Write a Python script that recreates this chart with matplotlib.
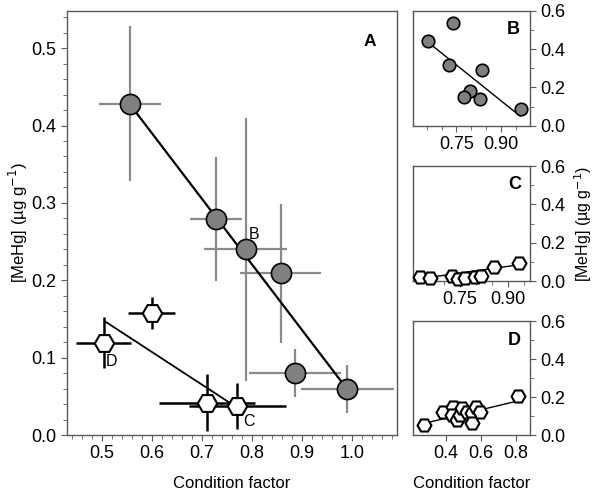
import matplotlib
matplotlib.use("Agg")
import matplotlib.pyplot as plt
from matplotlib.ticker import MultipleLocator, FixedLocator, FormatStrFormatter

plt.rcParams['font.family'] = ['Liberation Sans', 'DejaVu Sans']

# ---- Panel A data ----
a_gray_x = [0.555, 0.727, 0.787, 0.857, 0.885, 0.990]
a_gray_y = [0.428, 0.279, 0.240, 0.209, 0.080, 0.060]
a_gray_xerr = [0.062, 0.052, 0.083, 0.081, 0.092, 0.093]
a_gray_yerr = [0.100, 0.080, 0.170, 0.090, 0.031, 0.031]
a_gray_fit_x = [0.555, 0.987]
a_gray_fit_y = [0.428, 0.062]

a_white_x = [0.503, 0.599, 0.710, 0.770]
a_white_y = [0.119, 0.158, 0.042, 0.0375]
a_white_xerr = [0.055, 0.047, 0.096, 0.097]
a_white_yerr = [0.033, 0.021, 0.037, 0.030]
a_white_fit_x = [0.508, 0.757]
a_white_fit_y = [0.146, 0.041]

a_labels = ["B", "C", "D"]
a_label_x = [0.805, 0.793, 0.519]
a_label_y = [0.259, 0.017, 0.095]

# ---- Panel B data ----
b_x = [0.655, 0.738, 0.726, 0.837, 0.797, 0.776, 0.829, 0.968]
b_y = [0.443, 0.539, 0.316, 0.290, 0.180, 0.150, 0.141, 0.087]
b_fit_x = [0.660, 0.965]
b_fit_y = [0.430, 0.050]

# ---- Panel C data ----
c_x = [0.625, 0.656, 0.727, 0.745, 0.766, 0.797, 0.818, 0.857, 0.937]
c_y = [0.019, 0.016, 0.026, 0.009, 0.014, 0.022, 0.026, 0.074, 0.095]
c_fit_x = [0.625, 0.937]
c_fit_y = [0.012, 0.085]

# ---- Panel D data ----
d_x = [0.278, 0.386, 0.440, 0.434, 0.463, 0.482, 0.491, 0.520, 0.549, 0.549, 0.573, 0.596, 0.811]
d_y = [0.053, 0.120, 0.146, 0.105, 0.079, 0.107, 0.140, 0.123, 0.114, 0.064, 0.150, 0.120, 0.206]
d_fit_x = [0.290, 0.811]
d_fit_y = [0.064, 0.179]

ylabel = "[MeHg] (µg g$^{-1}$)"
spine_col = "#5a5a5a"
gray_fill = "#808080"
err_gray = "#8a8a8a"

fig = plt.figure(figsize=(6.01, 4.95), dpi=100)

def style(ax):
    for s in ax.spines.values():
        s.set_color(spine_col)
        s.set_linewidth(1.0)
    ax.tick_params(which='both', direction='out', color=spine_col, labelsize=13)
    ax.tick_params(which='major', length=4)
    ax.tick_params(which='minor', length=3)

# Panel A
axA = fig.add_axes([0.1115, 0.1212, 0.6606 - 0.1115, 0.9778 - 0.1212])
style(axA)
axA.errorbar(a_gray_x, a_gray_y, xerr=a_gray_xerr, yerr=a_gray_yerr, fmt='none',
             ecolor=err_gray, elinewidth=1.6, capsize=0, zorder=1)
axA.plot(a_gray_fit_x, a_gray_fit_y, color='black', lw=1.6, zorder=2)
axA.plot(a_gray_x, a_gray_y, 'o', ms=14.5, mfc=gray_fill, mec='black', mew=1.2, zorder=3)
axA.errorbar(a_white_x, a_white_y, xerr=a_white_xerr, yerr=a_white_yerr, fmt='none',
             ecolor='black', elinewidth=1.8, capsize=0, zorder=1)
axA.plot(a_white_fit_x, a_white_fit_y, color='black', lw=1.3, zorder=2)
axA.plot(a_white_x, a_white_y, 'H', ms=14, mfc='white', mec='black', mew=1.5, zorder=3)
for t, x, y in zip(a_labels, a_label_x, a_label_y):
    axA.text(x, y, t, ha='center', va='center', fontsize=11.5)
axA.text(1.035, 0.509, "A", ha='center', va='center', fontsize=12.5, fontweight='bold')
axA.set_xlim(0.43, 1.09)
axA.set_ylim(0, 0.548)
axA.xaxis.set_major_locator(FixedLocator([0.5, 0.6, 0.7, 0.8, 0.9, 1.0]))
axA.xaxis.set_minor_locator(MultipleLocator(0.02))
axA.yaxis.set_major_locator(MultipleLocator(0.1))
axA.yaxis.set_minor_locator(MultipleLocator(0.02))
axA.xaxis.set_major_formatter(FormatStrFormatter('%.1f'))
axA.yaxis.set_major_formatter(FormatStrFormatter('%.1f'))
axA.set_xlabel("Condition factor", fontsize=12, labelpad=10)
axA.set_ylabel(ylabel, fontsize=12)
axA.yaxis.set_label_coords(-0.112, 0.5)

def small(ax):
    style(ax)
    ax.yaxis.tick_right()
    ax.yaxis.set_label_position('right')
    ax.set_ylim(0, 0.6)
    ax.yaxis.set_major_locator(MultipleLocator(0.2))
    ax.yaxis.set_minor_locator(MultipleLocator(0.1))
    ax.yaxis.set_major_formatter(FormatStrFormatter('%.1f'))
    ax.tick_params(axis='y', which='both', left=False, right=True)

# Panel B
axB = fig.add_axes([0.6877, 0.746, 0.8819 - 0.6877, 0.9778 - 0.746])
small(axB)
axB.plot(b_fit_x, b_fit_y, color='black', lw=1.0, zorder=2)
axB.plot(b_x, b_y, 'o', ms=9, mfc=gray_fill, mec='black', mew=1.2, zorder=3)
axB.set_xlim(0.605, 0.998)
axB.xaxis.set_major_locator(FixedLocator([0.75, 0.90]))
axB.xaxis.set_minor_locator(FixedLocator([0.65, 0.70, 0.80, 0.85, 0.95]))
axB.xaxis.set_major_formatter(FormatStrFormatter('%.2f'))
axB.text(0.857, 0.843, "B", transform=axB.transAxes, ha='center', va='center',
         fontsize=13, fontweight='bold')

# Panel C
axC = fig.add_axes([0.6877, 0.4323, 0.8819 - 0.6877, 0.6646 - 0.4323])
small(axC)
axC.plot(c_fit_x, c_fit_y, color='black', lw=1.0, zorder=2)
axC.plot(c_x, c_y, 'H', ms=10, mfc='white', mec='black', mew=1.5, zorder=3, clip_on=False)
axC.set_xlim(0.605, 0.97)
axC.xaxis.set_major_locator(FixedLocator([0.75, 0.90]))
axC.xaxis.set_minor_locator(FixedLocator([0.65, 0.70, 0.80, 0.85, 0.95]))
axC.xaxis.set_major_formatter(FormatStrFormatter('%.2f'))
axC.text(0.866, 0.843, "C", transform=axC.transAxes, ha='center', va='center',
         fontsize=13, fontweight='bold')
axC.set_ylabel(ylabel, fontsize=11.5)
axC.yaxis.set_label_coords(1.36, 0.5)

# Panel D
axD = fig.add_axes([0.6877, 0.1212, 0.8819 - 0.6877, 0.3515 - 0.1212])
small(axD)
axD.plot(d_fit_x, d_fit_y, color='black', lw=1.0, zorder=2)
axD.plot(d_x, d_y, 'H', ms=10, mfc='white', mec='black', mew=1.5, zorder=3)
axD.set_xlim(0.215, 0.882)
axD.xaxis.set_major_locator(FixedLocator([0.4, 0.6, 0.8]))
axD.xaxis.set_major_formatter(FormatStrFormatter('%.1f'))
axD.text(0.866, 0.833, "D", transform=axD.transAxes, ha='center', va='center',
         fontsize=13, fontweight='bold')
axD.set_xlabel("Condition factor", fontsize=12, labelpad=10)

fig.savefig("out.png", dpi=100)
